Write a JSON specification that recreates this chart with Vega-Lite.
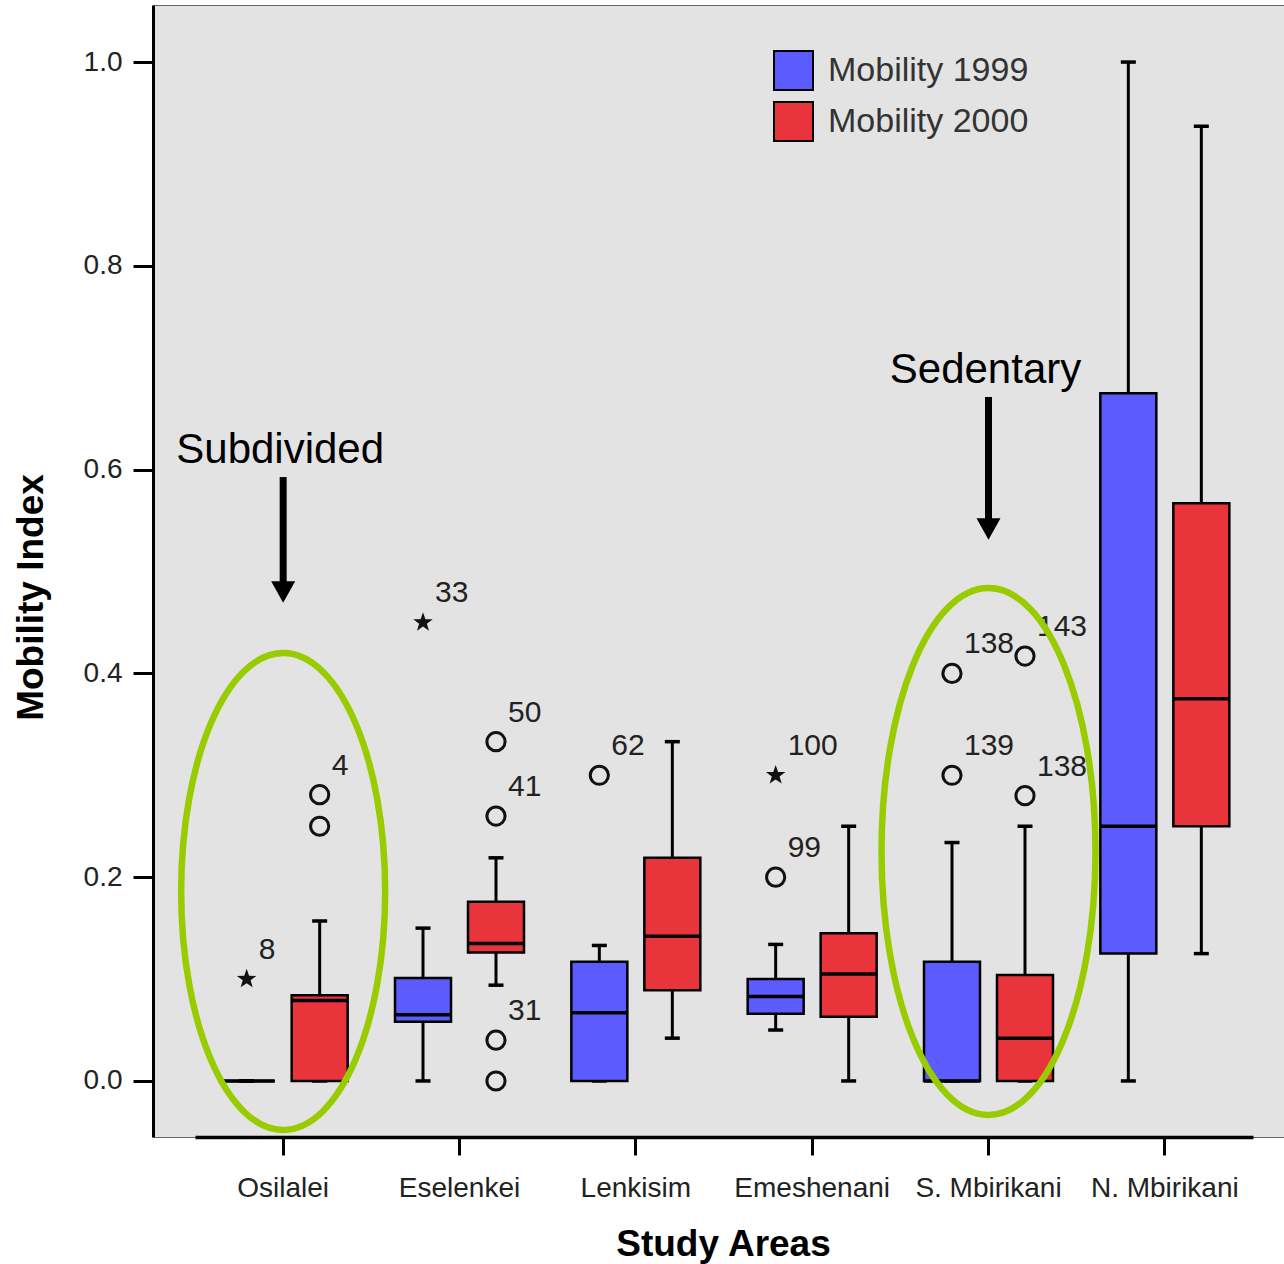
{
  "$schema": "https://vega.github.io/schema/vega-lite/v6.json",
  "width": 1131,
  "height": 1132,
  "autosize": {"type": "none"},
  "padding": {"left": 153, "top": 5, "right": 0, "bottom": 127},
  "background": "white",
  "config": {
    "view": {"fill": "#e3e3e3", "stroke": "#666666", "strokeWidth": 1},
    "font": "Liberation Sans",
    "axis": {"grid": false, "domainColor": "#000000", "tickColor": "#000000", "labelColor": "#222222", "titleColor": "#000000", "labelFont": "Liberation Sans", "titleFont": "Liberation Sans", "titleFontWeight": "bold", "titleFontSize": 37, "labelFontSize": 28},
    "axisY": {"domainWidth": 3, "tickWidth": 3, "tickSize": 20, "labelPadding": 11, "titleX": -111, "titleY": 592, "titleAngle": 270, "titleAlign": "center", "titleBaseline": "alphabetic"},
    "axisX": {"domainWidth": 3.5, "tickWidth": 3, "tickSize": 18, "labelPadding": 19, "labelAngle": 0, "titleX": 570, "titleY": 118, "titleAlign": "center", "titleBaseline": "alphabetic"}
  },
  "datasets": {
    "boxes": [
      {"area": "Osilalei", "series": "Mobility 1999", "lo": 0, "q1": 0, "med": 0, "q3": 0, "hi": 0},
      {"area": "Osilalei", "series": "Mobility 2000", "lo": 0, "q1": 0, "med": 0.079, "q3": 0.084, "hi": 0.157},
      {"area": "Eselenkei", "series": "Mobility 1999", "lo": 0, "q1": 0.058, "med": 0.065, "q3": 0.101, "hi": 0.15},
      {"area": "Eselenkei", "series": "Mobility 2000", "lo": 0.094, "q1": 0.126, "med": 0.135, "q3": 0.176, "hi": 0.219},
      {"area": "Lenkisim", "series": "Mobility 1999", "lo": 0, "q1": 0, "med": 0.067, "q3": 0.117, "hi": 0.133},
      {"area": "Lenkisim", "series": "Mobility 2000", "lo": 0.042, "q1": 0.089, "med": 0.142, "q3": 0.219, "hi": 0.333},
      {"area": "Emeshenani", "series": "Mobility 1999", "lo": 0.05, "q1": 0.066, "med": 0.083, "q3": 0.1, "hi": 0.134},
      {"area": "Emeshenani", "series": "Mobility 2000", "lo": 0, "q1": 0.063, "med": 0.105, "q3": 0.145, "hi": 0.25},
      {"area": "S. Mbirikani", "series": "Mobility 1999", "lo": 0, "q1": 0, "med": 0, "q3": 0.117, "hi": 0.234},
      {"area": "S. Mbirikani", "series": "Mobility 2000", "lo": 0, "q1": 0, "med": 0.042, "q3": 0.104, "hi": 0.25},
      {"area": "N. Mbirikani", "series": "Mobility 1999", "lo": 0, "q1": 0.125, "med": 0.25, "q3": 0.675, "hi": 1.0},
      {"area": "N. Mbirikani", "series": "Mobility 2000", "lo": 0.125, "q1": 0.25, "med": 0.375, "q3": 0.567, "hi": 0.937}
    ],
    "outliers": [
      {"area": "Osilalei", "series": "Mobility 1999", "value": 0.1, "kind": "extreme", "label": "8"},
      {"area": "Osilalei", "series": "Mobility 2000", "value": 0.281, "kind": "outlier", "label": "4"},
      {"area": "Osilalei", "series": "Mobility 2000", "value": 0.25, "kind": "outlier", "label": ""},
      {"area": "Eselenkei", "series": "Mobility 1999", "value": 0.45, "kind": "extreme", "label": "33"},
      {"area": "Eselenkei", "series": "Mobility 2000", "value": 0.333, "kind": "outlier", "label": "50"},
      {"area": "Eselenkei", "series": "Mobility 2000", "value": 0.26, "kind": "outlier", "label": "41"},
      {"area": "Eselenkei", "series": "Mobility 2000", "value": 0.04, "kind": "outlier", "label": "31"},
      {"area": "Eselenkei", "series": "Mobility 2000", "value": 0, "kind": "outlier", "label": ""},
      {"area": "Lenkisim", "series": "Mobility 1999", "value": 0.3, "kind": "outlier", "label": "62"},
      {"area": "Emeshenani", "series": "Mobility 1999", "value": 0.3, "kind": "extreme", "label": "100"},
      {"area": "Emeshenani", "series": "Mobility 1999", "value": 0.2, "kind": "outlier", "label": "99"},
      {"area": "S. Mbirikani", "series": "Mobility 1999", "value": 0.4, "kind": "outlier", "label": "138"},
      {"area": "S. Mbirikani", "series": "Mobility 1999", "value": 0.3, "kind": "outlier", "label": "139"},
      {"area": "S. Mbirikani", "series": "Mobility 2000", "value": 0.417, "kind": "outlier", "label": "143"},
      {"area": "S. Mbirikani", "series": "Mobility 2000", "value": 0.28, "kind": "outlier", "label": "138"}
    ],
    "rings": [
      {"area": "Osilalei", "y": 0.186},
      {"area": "S. Mbirikani", "y": 0.2252}
    ],
    "arrows": [
      {"area": "Osilalei", "start": 0.5927, "end": 0.4799, "text": "Subdivided", "texty": 0.6065},
      {"area": "S. Mbirikani", "start": 0.6712, "end": 0.5417, "text": "Sedentary", "texty": 0.685}
    ]
  },
  "layer": [
    {
      "data": {"name": "boxes"},
      "mark": {"type": "rule", "color": "#000000", "strokeWidth": 3},
      "encoding": {
        "x": {"field": "area", "type": "nominal", "title": "Study Areas", "sort": null, "scale": {"domain": ["Osilalei", "Eselenkei", "Lenkisim", "Emeshenani", "S. Mbirikani", "N. Mbirikani"], "range": [42, 1100], "paddingInner": 0, "paddingOuter": 0}},
        "xOffset": {"field": "series", "type": "nominal", "scale": {"domain": ["Mobility 1999", "Mobility 2000"], "paddingInner": 0, "paddingOuter": 0.2078}},
        "y": {"field": "lo", "type": "quantitative", "title": "Mobility Index", "scale": {"domain": [-0.055, 1.056], "nice": false, "zero": false}, "axis": {"values": [0, 0.2, 0.4, 0.6, 0.8, 1.0], "format": ".1f"}},
        "y2": {"field": "q1"}
      }
    },
    {
      "data": {"name": "boxes"},
      "mark": {"type": "rule", "color": "#000000", "strokeWidth": 3},
      "encoding": {
        "x": {"field": "area", "type": "nominal", "title": "Study Areas"},
        "xOffset": {"field": "series", "type": "nominal"},
        "y": {"field": "q3", "type": "quantitative", "title": "Mobility Index"},
        "y2": {"field": "hi"}
      }
    },
    {
      "data": {"name": "boxes"},
      "mark": {"type": "tick", "color": "#000000", "size": 15, "thickness": 3.5, "opacity": 1},
      "encoding": {
        "x": {"field": "area", "type": "nominal", "title": "Study Areas"},
        "xOffset": {"field": "series", "type": "nominal"},
        "y": {"field": "lo", "type": "quantitative", "title": "Mobility Index"}
      }
    },
    {
      "data": {"name": "boxes"},
      "mark": {"type": "tick", "color": "#000000", "size": 15, "thickness": 3.5, "opacity": 1},
      "encoding": {
        "x": {"field": "area", "type": "nominal", "title": "Study Areas"},
        "xOffset": {"field": "series", "type": "nominal"},
        "y": {"field": "hi", "type": "quantitative", "title": "Mobility Index"}
      }
    },
    {
      "data": {"name": "boxes"},
      "mark": {"type": "bar", "width": 56, "stroke": "#000000", "strokeWidth": 2.5, "opacity": 1},
      "encoding": {
        "x": {"field": "area", "type": "nominal", "title": "Study Areas"},
        "xOffset": {"field": "series", "type": "nominal"},
        "y": {"field": "q1", "type": "quantitative", "title": "Mobility Index"},
        "y2": {"field": "q3"},
        "color": {
          "field": "series", "type": "nominal",
          "scale": {"domain": ["Mobility 1999", "Mobility 2000"], "range": ["#5b5bff", "#e8343a"]},
          "legend": {"title": null, "orient": "none", "legendX": 620, "legendY": 45, "padding": 0, "symbolType": "square", "symbolSize": 1521, "symbolStrokeColor": "#000000", "symbolStrokeWidth": 2, "symbolOpacity": 1, "labelFontSize": 34, "labelColor": "#333333", "labelFont": "Liberation Sans", "labelOffset": 14, "labelLimit": 500, "rowPadding": 4}
        }
      }
    },
    {
      "data": {"name": "boxes"},
      "mark": {"type": "tick", "color": "#000000", "size": 56, "thickness": 3.5, "opacity": 1},
      "encoding": {
        "x": {"field": "area", "type": "nominal", "title": "Study Areas"},
        "xOffset": {"field": "series", "type": "nominal"},
        "y": {"field": "med", "type": "quantitative", "title": "Mobility Index"}
      }
    },
    {
      "data": {"name": "outliers"},
      "transform": [{"filter": "datum.kind === 'outlier'"}],
      "mark": {"type": "point", "shape": "circle", "filled": false, "stroke": "#111111", "strokeWidth": 3, "size": 330, "opacity": 1},
      "encoding": {
        "x": {"field": "area", "type": "nominal", "title": "Study Areas"},
        "xOffset": {"field": "series", "type": "nominal"},
        "y": {"field": "value", "type": "quantitative", "title": "Mobility Index"}
      }
    },
    {
      "data": {"name": "outliers"},
      "transform": [{"filter": "datum.kind === 'extreme'"}],
      "mark": {"type": "point", "shape": "M0,-1L0.235,-0.324L0.951,-0.309L0.38,0.124L0.588,0.809L0,0.4L-0.588,0.809L-0.38,0.124L-0.951,-0.309L-0.235,-0.324Z", "filled": true, "fill": "#111111", "strokeWidth": 0, "size": 420, "opacity": 1},
      "encoding": {
        "x": {"field": "area", "type": "nominal", "title": "Study Areas"},
        "xOffset": {"field": "series", "type": "nominal"},
        "y": {"field": "value", "type": "quantitative", "title": "Mobility Index"}
      }
    },
    {
      "data": {"name": "outliers"},
      "mark": {"type": "text", "align": "left", "baseline": "alphabetic", "dx": 12, "dy": -20, "fontSize": 30, "font": "Liberation Sans", "color": "#222222"},
      "encoding": {
        "x": {"field": "area", "type": "nominal", "title": "Study Areas"},
        "xOffset": {"field": "series", "type": "nominal"},
        "y": {"field": "value", "type": "quantitative", "title": "Mobility Index"},
        "text": {"field": "label"}
      }
    },
    {
      "data": {"name": "rings"},
      "transform": [{"filter": "datum.area === 'Osilalei'"}],
      "mark": {"type": "point", "shape": "M0.4277,0C0.4277,0.5523 0.2362,1 0,1C-0.2362,1 -0.4277,0.5523 -0.4277,0C-0.4277,-0.5523 -0.2362,-1 0,-1C0.2362,-1 0.4277,-0.5523 0.4277,0Z", "filled": false, "stroke": "#99cc00", "strokeWidth": 6.5, "size": 227529, "opacity": 1},
      "encoding": {
        "x": {"field": "area", "type": "nominal", "title": "Study Areas"},
        "y": {"field": "y", "type": "quantitative", "title": "Mobility Index"}
      }
    },
    {
      "data": {"name": "rings"},
      "transform": [{"filter": "datum.area === 'S. Mbirikani'"}],
      "mark": {"type": "point", "shape": "M0.406,0C0.406,0.5523 0.2243,1 0,1C-0.2243,1 -0.406,0.5523 -0.406,0C-0.406,-0.5523 -0.2243,-1 0,-1C0.2243,-1 0.406,-0.5523 0.406,0Z", "filled": false, "stroke": "#99cc00", "strokeWidth": 6.5, "size": 277729, "opacity": 1},
      "encoding": {
        "x": {"field": "area", "type": "nominal", "title": "Study Areas"},
        "y": {"field": "y", "type": "quantitative", "title": "Mobility Index"}
      }
    },
    {
      "data": {"name": "arrows"},
      "mark": {"type": "rule", "color": "#000000", "strokeWidth": 7},
      "encoding": {
        "x": {"field": "area", "type": "nominal", "title": "Study Areas"},
        "y": {"field": "start", "type": "quantitative", "title": "Mobility Index"},
        "y2": {"field": "end"}
      }
    },
    {
      "data": {"name": "arrows"},
      "mark": {"type": "point", "shape": "M-1,-0.9L1,-0.9L0,0.9Z", "filled": true, "fill": "#000000", "strokeWidth": 0, "size": 576, "opacity": 1},
      "encoding": {
        "x": {"field": "area", "type": "nominal", "title": "Study Areas"},
        "y": {"field": "end", "type": "quantitative", "title": "Mobility Index"}
      }
    },
    {
      "data": {"name": "arrows"},
      "mark": {"type": "text", "align": "center", "baseline": "alphabetic", "fontSize": 42, "font": "Liberation Sans", "color": "#000000", "dx": -3},
      "encoding": {
        "x": {"field": "area", "type": "nominal", "title": "Study Areas"},
        "y": {"field": "texty", "type": "quantitative", "title": "Mobility Index"},
        "text": {"field": "text"}
      }
    }
  ]
}
